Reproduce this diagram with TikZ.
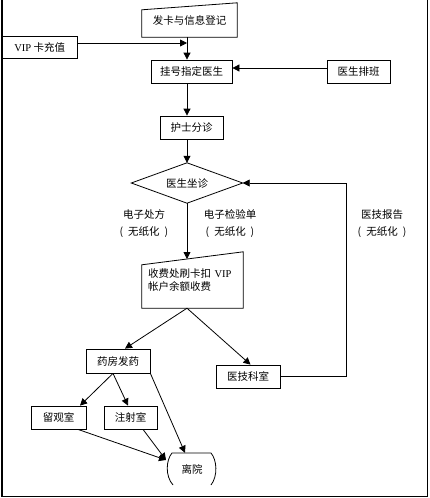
\documentclass[tikz,border=0pt]{standalone}
\usepackage{fontspec}
\setmainfont{Liberation Serif}
\newfontfamily\cjk{Noto Sans CJK SC}
\usetikzlibrary{arrows.meta,calc}
\newcommand{\wzh}{(\hspace{5pt}无纸化\hspace{5pt})}
\begin{document}
\begin{tikzpicture}[x=1pt,y=-1pt,
  bx/.style 2 args={draw,line width=.8pt,minimum width=#1,minimum height=#2,inner sep=0pt},
  ghost/.style 2 args={minimum width=#1,minimum height=#2,inner sep=0pt},
  arr/.style={line width=.8pt,-{Triangle[length=7pt,width=7pt]}},
  ln/.style={line width=.8pt},
  every node/.style={font=\cjk\fontsize{10.5}{13}\selectfont},
  lbl/.style={align=center,font=\cjk\fontsize{10.5}{17}\selectfont}
]
\useasboundingbox (0,0) rectangle (429,498);
\draw[line width=1.5pt] (2,0) -- (2,496.5) -- (427.5,496.5) -- (427.5,0);

\coordinate (c) at (187,0);
\coordinate (rt) at (346,0);

\node[ghost={95pt}{34pt}] (fk) at (189.5,20) {发卡与信息登记};
\draw[ln] (fk.south west) -- (fk.south east) -- (fk.north east) -- ([yshift=-7pt]fk.north west) -- cycle;

\node[bx={74.5pt}{22pt}] (vip) at (39.75,47) {{\rmfamily VIP} 卡充值};
\node[bx={81pt}{23pt}] (gh) at (191.5,71.5) {挂号指定医生};
\node[bx={63pt}{23pt}] (pb) at (358.5,71.5) {医生排班};
\node[bx={63pt}{23pt}] (hs) at (191.5,127.5) {护士分诊};

\node[ghost={111pt}{40pt}] (zz) at (187,183) {医生坐诊};
\draw[ln] (zz.north) -- (zz.east) -- (zz.south) -- (zz.west) -- cycle;

\node[ghost={101pt}{56pt},align=left,text width=89pt] (sf) at (192.5,280) {收费处刷卡扣 {\rmfamily VIP}\\帐户余额收费};
\draw[ln] (sf.south west) -- (sf.south east) -- (sf.north east) -- ([yshift=-13pt]sf.north west) -- cycle;

\node[bx={64pt}{24pt}] (yf) at (118,361) {药房发药};
\node[bx={64pt}{23pt}] (yj) at (248,376.5) {医技科室};
\node[bx={55pt}{23pt}] (lg) at (58.5,417.5) {留观室};
\node[bx={53pt}{23pt}] (zs) at (130.5,417.5) {注射室};
\node[ghost={47pt}{32pt}] (ly) at (192,469) {离院};
\draw[ln,shift={(ly.center)}] (-19,16) .. controls (-27,7) and (-26,-9) .. (-20,-16) -- (19,-16) .. controls (25,-9) and (26,7) .. (19,16);

\node[lbl] (l1) at (144,223.5) {电子处方\\\wzh};
\node[lbl] (l2) at (230,223.5) {电子检验单\\\wzh};
\node[lbl] (l3) at (382,223.5) {医技报告\\\wzh};

\coordinate (vipa) at ([yshift=4pt]vip.east);
\coordinate (pba) at ([yshift=3.5pt]pb.west);
\coordinate (sftop) at (187,259);
\coordinate (lyl) at (166,460);

\draw[arr] (vipa) -- (vipa -| c);
\draw[arr] (fk.south -| c) -- (gh.north -| c);
\draw[arr] (pba) -- (pba -| gh.east);
\draw[arr] (gh.south -| c) -- (hs.north -| c);
\draw[arr] (hs.south -| c) -- (zz.north);
\draw[arr] (zz.south) -- (sftop);
\draw[arr] (sf.south -| c) -- ([xshift=7pt]yf.north);
\draw[arr] (sf.south -| c) -- ([xshift=2.5pt]yj.north);
\draw[arr] (yj.east) -- (yj.east -| rt) -- (zz.east -| rt) -- (zz.east);
\draw[arr] ([xshift=-5pt]yf.south) -- ([xshift=21.5pt]lg.north);
\draw[arr] ([xshift=-5pt]yf.south) -- ([xshift=-2.5pt]zs.north);
\draw[arr] (yf.south east) -- ([xshift=-7pt]ly.north);
\draw[arr] ([xshift=19.5pt]lg.south) -- (lyl);
\draw[arr] ([xshift=12.5pt]zs.south) -- (lyl);
\end{tikzpicture}
\end{document}
